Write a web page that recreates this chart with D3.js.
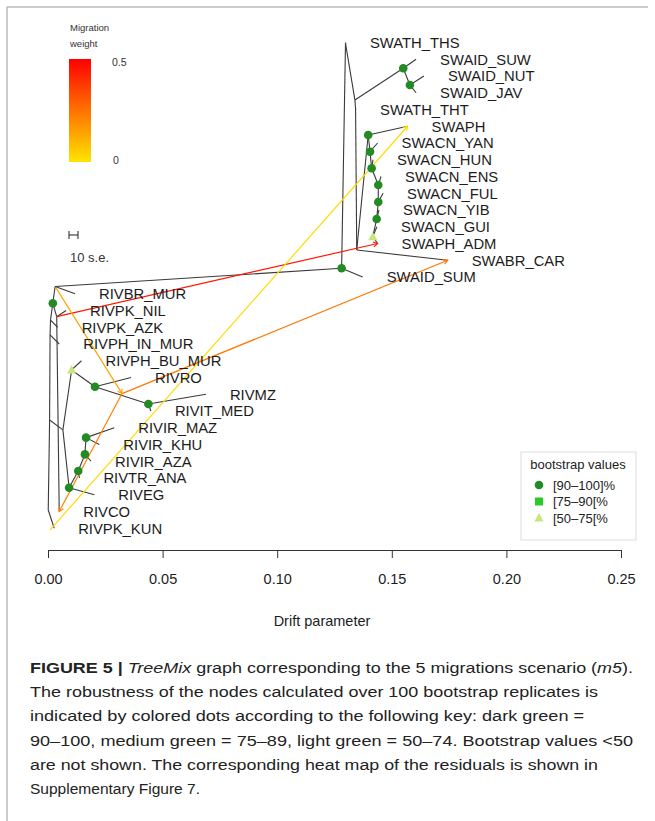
<!DOCTYPE html>
<html>
<head>
<meta charset="utf-8">
<script src="https://cdn.jsdelivr.net/npm/d3@7"></script>
<style>
	body { margin: 0; background: #fff; }
	svg { display: block; font-family: "Liberation Sans", Arial, sans-serif; }
</style>
</head>
<body>
<svg id="chart" width="655" height="821"></svg>
<script>
// leaves, top to bottom, with their drift
const leafNames = ["SWATH_THS", "SWAID_SUW", "SWAID_NUT", "SWAID_JAV", "SWATH_THT", "SWAPH", "SWACN_YAN", "SWACN_HUN",
	"SWACN_ENS", "SWACN_FUL", "SWACN_YIB", "SWACN_GUI", "SWAPH_ADM", "SWABR_CAR", "SWAID_SUM", "RIVBR_MUR", "RIVPK_NIL",
	"RIVPK_AZK", "RIVPH_IN_MUR", "RIVPH_BU_MUR", "RIVRO", "RIVMZ", "RIVIT_MED", "RIVIR_MAZ", "RIVIR_KHU", "RIVIR_AZA",
	"RIVTR_ANA", "RIVEG", "RIVCO", "RIVPK_KUN"];
const leafDrift = [0.1300, 0.1606, 0.1640, 0.1606, 0.1344, 0.1569, 0.1438, 0.1418, 0.1453, 0.1462, 0.1444, 0.1435,
	0.1438, 0.1744, 0.1373, 0.0118, 0.0079, 0.0042, 0.0049, 0.0146, 0.0362, 0.0689, 0.0449, 0.0289, 0.0224, 0.0188,
	0.0137, 0.0202, 0.0049, 0.0027];

// internal nodes (row = position in leaf units) and bootstrap class
const nodeIds = ["R", "Z2", "Z3", "Z4", "G0", "MR", "Q", "A", "T0", "J1", "G1", "G1b", "K", "B", "G2", "G3", "G4", "G5",
	"G6", "G7", "G8", "X", "TRI", "RON", "MZN", "N4", "N3", "N2", "N1"];
const nodeDrift = [0.0001, 0.0007, 0.0009, 0.0011, 0.0021, 0.0038, 0.0031, 0.1281, 0.1298, 0.1339, 0.1550, 0.1579,
	0.1342, 0.1347, 0.1397, 0.1405, 0.1412, 0.1441, 0.1441, 0.1434, 0.1417, 0.0065, 0.0103, 0.0205, 0.0438, 0.0092,
	0.0132, 0.0161, 0.0166];
const nodeRow = [27.91, 22.54, 17.46, 16.57, 15.57, 16.37, 14.57, 13.48, 0.05, 3.43, 1.54, 2.54, 3.97, 12.39, 5.52,
	6.52, 7.51, 8.51, 9.52, 10.54, 11.59, 23.13, 19.55, 20.55, 21.58, 26.58, 25.58, 24.59, 23.59];
const nodeBoot = ["", "", "", "", "90", "", "", "90", "", "", "90", "90", "", "", "90", "90", "90", "90", "90", "90",
	"50", "", "50", "90", "90", "90", "90", "90", "90"];

// tree edges
const edgeParent = ["R", "R", "Z2", "Z2", "Z3", "Z3", "Z4", "Z4", "G0", "G0", "MR", "MR", "Q", "Q", "A", "A", "T0", "T0",
	"J1", "J1", "G1", "G1", "G1b", "G1b", "K", "K", "B", "B", "G2", "G2", "G3", "G3", "G4", "G4", "G5", "G5", "G6", "G6",
	"G7", "G7", "G8", "G8", "X", "X", "TRI", "TRI", "RON", "RON", "MZN", "MZN", "N4", "N4", "N3", "N3", "N2", "N2",
	"N1", "N1"];
const edgeChild = ["Z2", "RIVPK_KUN", "Z3", "X", "Z4", "RIVPH_IN_MUR", "G0", "RIVPK_AZK", "Q", "MR", "RIVPK_NIL",
	"RIVCO", "A", "RIVBR_MUR", "T0", "SWAID_SUM", "SWATH_THS", "J1", "G1", "K", "SWAID_SUW", "G1b", "SWAID_NUT",
	"SWAID_JAV", "SWATH_THT", "B", "G2", "SWABR_CAR", "SWAPH", "G3", "SWACN_YAN", "G4", "SWACN_HUN", "G5", "SWACN_ENS",
	"G6", "SWACN_FUL", "G7", "SWACN_YIB", "G8", "SWACN_GUI", "SWAPH_ADM", "TRI", "N4", "RIVPH_BU_MUR", "RON", "RIVRO",
	"MZN", "RIVMZ", "RIVIT_MED", "N3", "RIVEG", "N2", "RIVTR_ANA", "N1", "RIVIR_AZA", "RIVIR_MAZ", "RIVIR_KHU"];

// points on edges where migrations start
const anchorIds = ["M1", "Syel", "Sq"];
const anchorDrift = [0.0323, 0.0009, 0.0035];
const anchorRow = [20.96, 29.1, 14.65];

// migrations
const migFrom = ["MR", "Syel", "M1", "M1", "Sq"];
const migTo = ["SWAPH_ADM", "SWAPH", "SWABR_CAR", "RIVCO", "M1"];
const migWeight = [0.45, 0.02, 0.24, 0.22, 0.14];

const tickValues = [0, 0.05, 0.1, 0.15, 0.2, 0.25];
const legendWeights = [0, 0.1, 0.2, 0.3, 0.4, 0.5];
const bootLabels = ["[90\u2013100]%", "[75\u201390[%", "[50\u201375[%"];
const bootColors = ["#238b23", "#26cc26", "#c9e57c"];

const captionLines = [
	[["b", "FIGURE 5 | "], ["i", "TreeMix"], ["", " graph corresponding to the 5 migrations scenario ("], ["i", "m5"], ["", ")."]],
	[["", "The robustness of the nodes calculated over 100 bootstrap replicates is"]],
	[["", "indicated by colored dots according to the following key: dark green ="]],
	[["", "90\u2013100, medium green = 75\u201389, light green = 50\u201374. Bootstrap values <50"]],
	[["", "are not shown. The corresponding heat map of the residuals is shown in"]],
	[["", "Supplementary Figure 7."]],
];
const captionWidths = [603, 568, 554, 603, 568, 170];

const svg = d3.select("#chart");
const x = d3.scaleLinear().domain([0, 0.25]).range([48, 621]);
const y = d3.scaleLinear().domain([0, 29]).range([42.5, 528.25]);

// TreeMix colouring: rev(heat.colors(150))[floor(w*200)+50]
function migColor(w) {
	const k = 101 - Math.floor(w * 200);
	const hue = ((k - 1) / 112) * 60;
	return d3.hsl(hue, 1, 0.5).formatHex();
}

const pos = {};
leafNames.forEach((n, i) => (pos[n] = { x: x(leafDrift[i]), y: y(i) }));
nodeIds.forEach((n, i) => (pos[n] = { x: x(nodeDrift[i]), y: y(nodeRow[i]) }));
anchorIds.forEach((n, i) => (pos[n] = { x: x(anchorDrift[i]), y: y(anchorRow[i]) }));

// frame
svg.append("line").attr("x1", 7).attr("x2", 648).attr("y1", 7).attr("y2", 7).attr("stroke", "#999");
svg.append("line").attr("x1", 7).attr("x2", 7).attr("y1", 7).attr("y2", 821).attr("stroke", "#999");

// tree edges
svg.append("g")
	.selectAll("line")
	.data(edgeParent.map((p, i) => [pos[p], pos[edgeChild[i]]]))
	.join("line")
	.attr("x1", (d) => d[0].x)
	.attr("y1", (d) => d[0].y)
	.attr("x2", (d) => d[1].x)
	.attr("y2", (d) => d[1].y)
	.attr("stroke", "#3a3a3a")
	.attr("stroke-width", 1.1);

// migration arrows
const migGroup = svg.append("g");
migFrom.forEach((f, i) => {
	const a = pos[f];
	const b = pos[migTo[i]];
	const col = migColor(migWeight[i]);
	migGroup.append("line")
		.attr("x1", a.x).attr("y1", a.y).attr("x2", b.x).attr("y2", b.y)
		.attr("stroke", col).attr("stroke-width", 1.2);
	const ang = Math.atan2(b.y - a.y, b.x - a.x);
	const len = 5;
	const p1 = [b.x - len * Math.cos(ang - Math.PI / 6), b.y - len * Math.sin(ang - Math.PI / 6)];
	const p2 = [b.x - len * Math.cos(ang + Math.PI / 6), b.y - len * Math.sin(ang + Math.PI / 6)];
	migGroup.append("path")
		.attr("d", `M${p1[0]},${p1[1]}L${b.x},${b.y}L${p2[0]},${p2[1]}`)
		.attr("fill", "none").attr("stroke", col).attr("stroke-width", 1.2);
});

// bootstrap markers
function drawMarker(g, cls, cx, cy) {
	if (cls === "90") {
		g.append("circle").attr("cx", cx).attr("cy", cy).attr("r", 4.3).attr("fill", bootColors[0]);
	} else if (cls === "75") {
		g.append("rect").attr("x", cx - 4).attr("y", cy - 4).attr("width", 8).attr("height", 8).attr("fill", bootColors[1]);
	} else if (cls === "50") {
		g.append("path").attr("d", `M${cx},${cy - 5}L${cx + 4.6},${cy + 3.5}L${cx - 4.6},${cy + 3.5}Z`).attr("fill", bootColors[2]);
	}
}
const markGroup = svg.append("g");
nodeIds.forEach((n, i) => drawMarker(markGroup, nodeBoot[i], pos[n].x, pos[n].y));

// leaf labels
svg.append("g")
	.selectAll("text")
	.data(leafNames)
	.join("text")
	.attr("x", (d) => pos[d].x + 24)
	.attr("y", (d) => pos[d].y)
	.attr("dy", "0.36em")
	.attr("font-size", 14.8)
	.attr("fill", "#1c1c1c")
	.text((d) => d);

// axis
const axis = svg.append("g")
	.attr("transform", "translate(0,550)")
	.call(d3.axisBottom(x).tickValues(tickValues).tickFormat(d3.format(".2f")).tickSize(8).tickSizeOuter(0).tickPadding(16));
axis.selectAll("path, line").attr("stroke", "#333");
axis.selectAll("text").attr("font-size", 14.5).attr("fill", "#1c1c1c").attr("font-family", "Liberation Sans, Arial, sans-serif");
svg.append("text").attr("x", 322).attr("y", 626).attr("text-anchor", "middle").attr("font-size", 14.5)
	.attr("fill", "#1c1c1c").text("Drift parameter");

// migration weight legend
const grad = svg.append("defs").append("linearGradient").attr("id", "heat")
	.attr("x1", 0).attr("x2", 0).attr("y1", 1).attr("y2", 0);
legendWeights.forEach((w) => grad.append("stop").attr("offset", w / 0.5).attr("stop-color", migColor(w)));
svg.append("rect").attr("x", 69).attr("y", 59).attr("width", 22).attr("height", 103).attr("fill", "url(#heat)");
svg.append("text").attr("x", 70).attr("y", 31).attr("font-size", 9.5).attr("fill", "#333").text("Migration");
svg.append("text").attr("x", 70).attr("y", 47).attr("font-size", 9.5).attr("fill", "#333").text("weight");
svg.append("text").attr("x", 112).attr("y", 66).attr("font-size", 10.5).attr("fill", "#333").text("0.5");
svg.append("text").attr("x", 113).attr("y", 164).attr("font-size", 10.5).attr("fill", "#333").text("0");

// scale bar
const sb = svg.append("g").attr("stroke", "#333").attr("stroke-width", 1.1);
sb.append("line").attr("x1", 69).attr("x2", 78).attr("y1", 235).attr("y2", 235);
sb.append("line").attr("x1", 69).attr("x2", 69).attr("y1", 231).attr("y2", 239);
sb.append("line").attr("x1", 78).attr("x2", 78).attr("y1", 231).attr("y2", 239);
svg.append("text").attr("x", 70).attr("y", 262).attr("font-size", 13).attr("fill", "#333").text("10 s.e.");

// bootstrap legend
const lg = svg.append("g");
lg.append("rect").attr("x", 521).attr("y", 452).attr("width", 115).attr("height", 88)
	.attr("fill", "#fff").attr("stroke", "#ddd");
lg.append("text").attr("x", 578).attr("y", 469).attr("text-anchor", "middle").attr("font-size", 13)
	.attr("fill", "#222").text("bootstrap values");
["90", "75", "50"].forEach((c, i) => {
	drawMarker(lg, c, 539, 485 + i * 16.5);
	lg.append("text").attr("x", 553).attr("y", 485 + i * 16.5).attr("dy", "0.36em").attr("font-size", 13)
		.attr("fill", "#222").text(bootLabels[i]);
});

// caption
captionLines.forEach((parts, i) => {
	const t = svg.append("text").attr("x", 30).attr("y", 673 + i * 24.2).attr("font-size", 15.5).attr("fill", "#222")
		.attr("textLength", captionWidths[i]).attr("lengthAdjust", "spacingAndGlyphs");
	parts.forEach(([style, str]) => {
		const ts = t.append("tspan").text(str);
		if (style === "b") ts.attr("font-weight", "bold");
		if (style === "i") ts.attr("font-style", "italic");
	});
});
</script>
</body>
</html>
